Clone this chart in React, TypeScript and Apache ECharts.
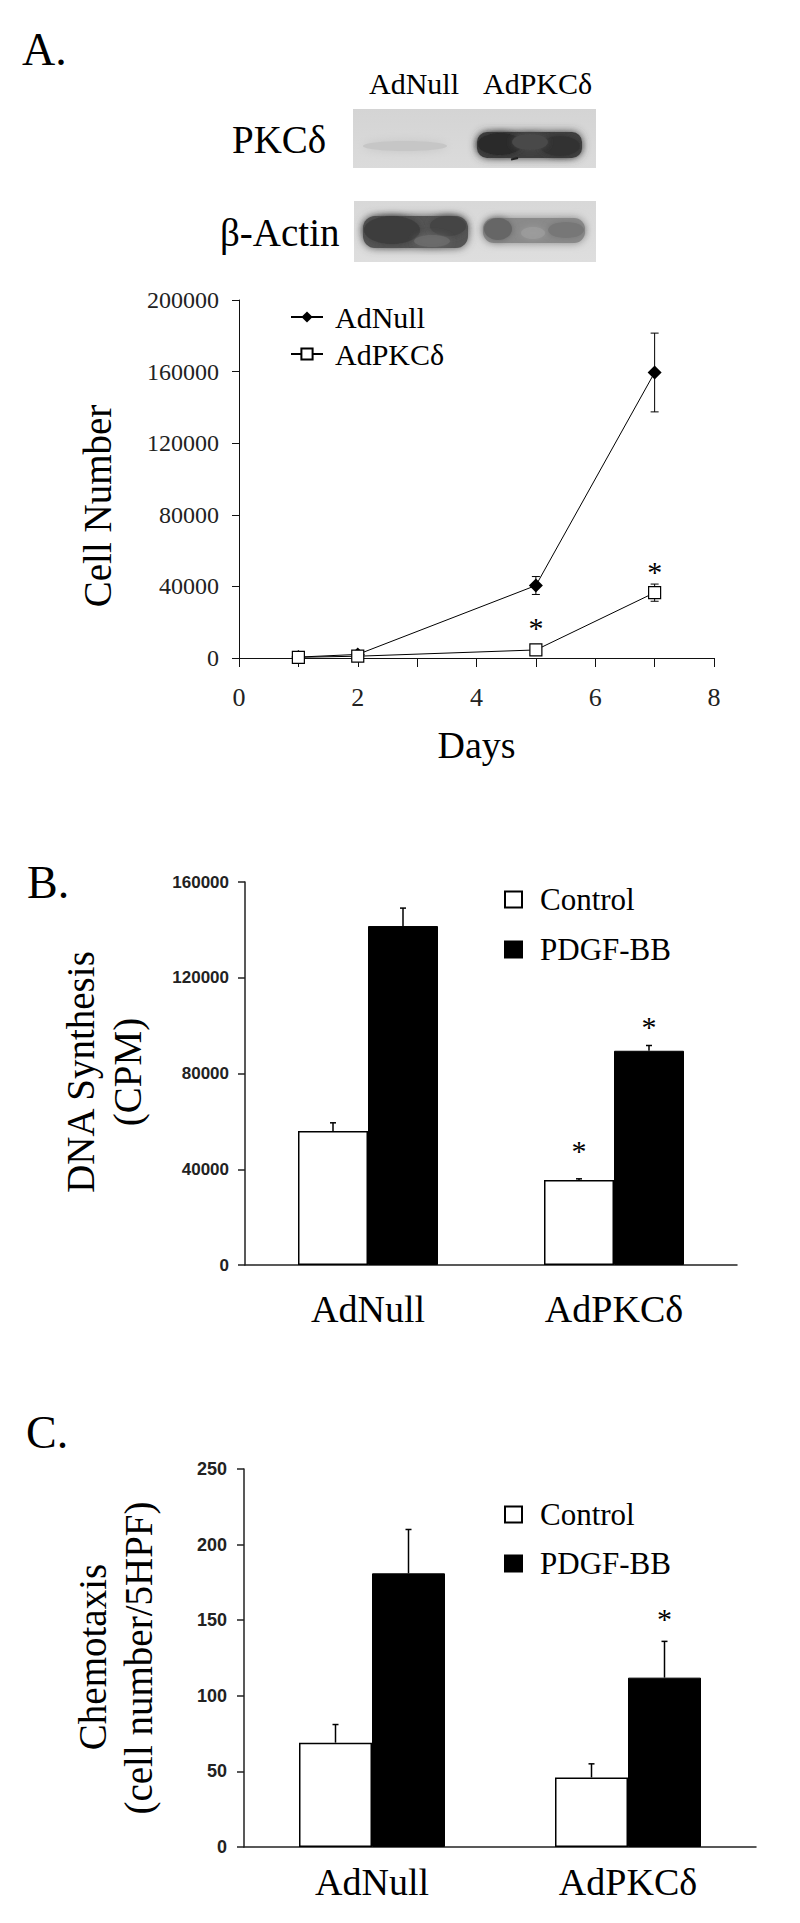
import React, { useEffect, useRef } from 'react';
import * as echarts from 'echarts';

const SERIF = '"Liberation Serif", "Times New Roman", Times, serif';
const SANS = '"Liberation Sans", Arial, Helvetica, sans-serif';

// ---------- Panel A: cell growth ----------
const days = [1, 2, 5, 7];
const adNullCells = [500, 2000, 40500, 159500];
const adNullErr = [300, 800, 5000, 22000];
const adPkcCells = [400, 1000, 4500, 36500];
const adPkcErr = [300, 500, 1000, 4800];
const aStarDays = [5, 7];
const aStarPos = [19500, 50300];
const aXTickLabels = [0, 2, 4, 6, 8];
const aYTicks = [0, 40000, 80000, 120000, 160000, 200000];

// ---------- Panel B: DNA synthesis ----------
const groups = ['AdNull', 'AdPKCδ'];
const bControl = [56000, 35500];
const bControlErr = [3400, 500];
const bPdgf = [141600, 89500];
const bPdgfErr = [7500, 2200];
const bStarControl = [null, 49400];
const bStarPdgf = [null, 101100];
const bYTicks = [0, 40000, 80000, 120000, 160000];

// ---------- Panel C: chemotaxis ----------
const cControl = [69, 46];
const cControlErr = [12, 9];
const cPdgf = [181, 112];
const cPdgfErr = [29, 24];
const cStarControl = [null, null];
const cStarPdgf = [null, 153.5];
const cYTicks = [0, 50, 100, 150, 200, 250];

const BAR_W_B = 70;
const BAR_W_C = 73;

function errorBarItem(both: boolean, dx: number, cap: number) {
  return (params: any, api: any) => {
    const x = api.value(0);
    const y = api.value(1);
    const e = api.value(2);
    const sign = api.value(3);
    const off = sign * dx;
    const base = api.coord([x, y]);
    const top = api.coord([x, y + e]);
    const bot = both ? api.coord([x, y - e]) : base;
    const st = { stroke: '#000', lineWidth: both ? 1 : 1.5 };
    const children: any[] = [
      { type: 'line', shape: { x1: top[0] + off, y1: top[1], x2: bot[0] + off, y2: bot[1] }, style: st },
      { type: 'line', shape: { x1: top[0] + off - cap, y1: top[1], x2: top[0] + off + cap, y2: top[1] }, style: st },
    ];
    if (both) {
      children.push({ type: 'line', shape: { x1: bot[0] - cap, y1: bot[1], x2: bot[0] + cap, y2: bot[1] }, style: st });
    }
    return { type: 'group', children };
  };
}

function starItem(dx: number) {
  return (params: any, api: any) => {
    const p = api.coord([api.value(0), api.value(1)]);
    const sign = api.value(2);
    return {
      type: 'text',
      x: p[0] + sign * dx,
      y: p[1] + 4,
      style: { text: '*', fontSize: 30, fontFamily: SERIF, fill: '#000', align: 'center', verticalAlign: 'middle' },
    };
  };
}

function txt(text: string, x: number, y: number, size: number, opts: any = {}) {
  return {
    type: 'text',
    x,
    y,
    rotation: opts.rotation || 0,
    style: {
      text,
      fontSize: size,
      fontFamily: opts.family || SERIF,
      fill: '#000',
      align: opts.align || 'left',
      verticalAlign: 'middle',
    },
  };
}

function blotGraphics() {
  const soft = (shape: any, color: string, blur: number, extra: any = {}) => ({
    type: 'rect',
    shape,
    style: { fill: color, shadowBlur: blur, shadowColor: color, ...extra },
  });
  const blob = (cx: number, cy: number, rx: number, ry: number, color: string, blur: number, opacity = 1) => ({
    type: 'ellipse',
    shape: { cx, cy, rx, ry },
    style: { fill: color, shadowBlur: blur, shadowColor: color, opacity },
  });
  return [
    // PKCdelta blot
    {
      type: 'rect',
      shape: { x: 353, y: 109, width: 243, height: 59 },
      style: {
        fill: new echarts.graphic.LinearGradient(0, 0, 0, 1, [
          { offset: 0, color: '#d4d4d4' },
          { offset: 1, color: '#dbdbdb' },
        ]),
      },
    },
    blob(405, 146, 42, 5, '#c6c6c6', 10),
    soft({ x: 477, y: 132, width: 105, height: 26, r: 10 }, '#404040', 9),
    blob(500, 144, 22, 11, '#2a2a2a', 6),
    blob(560, 146, 20, 10, '#333333', 6),
    blob(530, 142, 18, 8, '#484848', 6),
    { type: 'line', shape: { x1: 511, y1: 159.5, x2: 518, y2: 158 }, style: { stroke: '#222', lineWidth: 2 } },
    // beta-actin blot
    {
      type: 'rect',
      shape: { x: 354, y: 201, width: 242, height: 61 },
      style: {
        fill: new echarts.graphic.LinearGradient(0, 0, 0, 1, [
          { offset: 0, color: '#d8d8d8' },
          { offset: 1, color: '#dedede' },
        ]),
      },
    },
    soft({ x: 363, y: 216, width: 105, height: 32, r: 12 }, '#555555', 9),
    blob(392, 230, 28, 14, '#3e3e3e', 7),
    blob(448, 226, 18, 10, '#454545', 7),
    blob(432, 241, 18, 6, '#6e6e6e', 7, 0.7),
    soft({ x: 483, y: 218, width: 102, height: 25, r: 11 }, '#8a8a8a', 9),
    blob(498, 229, 14, 11, '#666666', 6),
    blob(566, 230, 18, 8, '#777777', 6),
    blob(533, 233, 12, 6, '#9c9c9c', 6, 0.8),
  ];
}

export default function App() {
  const ref = useRef<HTMLDivElement>(null);

  useEffect(() => {
    if (!ref.current) return;
    const chart = echarts.init(ref.current, undefined, { renderer: 'svg' });

    const axisLineA = { show: true, lineStyle: { color: '#111', width: 1 } };
    const axisLineBC = { show: true, lineStyle: { color: '#222', width: 1.5 } };
    const legendText = { fontFamily: SERIF, fontSize: 31, color: '#000', fontWeight: 'normal', padding: [0, 0, 0, 13] };

    const option: any = {
      animation: false,
      backgroundColor: '#fff',
      textStyle: { fontFamily: SERIF, color: '#000' },
      grid: [
        { left: 239, top: 300, width: 475, height: 358 },
        { left: 245, top: 882, width: 492, height: 383 },
        { left: 244, top: 1469, width: 512, height: 378 },
      ],
      xAxis: [
        {
          type: 'value',
          gridIndex: 0,
          min: aXTickLabels[0],
          max: aXTickLabels[aXTickLabels.length - 1],
          interval: 1,
          axisLine: axisLineA,
          axisTick: { show: true, length: 9, lineStyle: { color: '#111', width: 1 } },
          axisLabel: {
            formatter: (v: number) => (aXTickLabels.indexOf(v) >= 0 ? String(v) : ''),
            fontFamily: SERIF,
            fontSize: 26,
            color: '#222',
            margin: 26,
          },
          splitLine: { show: false },
          name: 'Days',
          nameLocation: 'middle',
          nameGap: 68,
          nameTextStyle: { fontFamily: SERIF, fontSize: 38, color: '#000' },
        },
        {
          type: 'category',
          gridIndex: 1,
          data: groups,
          axisLine: axisLineBC,
          axisTick: { show: false },
          axisLabel: { fontFamily: SERIF, fontSize: 38, color: '#000', margin: 25 },
        },
        {
          type: 'category',
          gridIndex: 2,
          data: groups,
          axisLine: axisLineBC,
          axisTick: { show: false },
          axisLabel: { fontFamily: SERIF, fontSize: 38, color: '#000', margin: 16 },
        },
      ],
      yAxis: [
        {
          type: 'value',
          gridIndex: 0,
          min: aYTicks[0],
          max: aYTicks[aYTicks.length - 1],
          interval: aYTicks[1] - aYTicks[0],
          axisLine: axisLineA,
          axisTick: { show: true, length: 7, lineStyle: { color: '#111', width: 1 } },
          axisLabel: { formatter: (v: number) => String(v), fontFamily: SERIF, fontSize: 24, color: '#222', margin: 20 },
          splitLine: { show: false },
        },
        {
          type: 'value',
          gridIndex: 1,
          min: bYTicks[0],
          max: bYTicks[bYTicks.length - 1],
          interval: bYTicks[1] - bYTicks[0],
          axisLine: axisLineBC,
          axisTick: { show: true, length: 7, lineStyle: { color: '#222', width: 1.5 } },
          axisLabel: { formatter: (v: number) => String(v), fontFamily: SANS, fontWeight: 'bold', fontSize: 17, color: '#222', margin: 16 },
          splitLine: { show: false },
        },
        {
          type: 'value',
          gridIndex: 2,
          min: cYTicks[0],
          max: cYTicks[cYTicks.length - 1],
          interval: cYTicks[1] - cYTicks[0],
          axisLine: axisLineBC,
          axisTick: { show: true, length: 7, lineStyle: { color: '#222', width: 1.5 } },
          axisLabel: { formatter: (v: number) => String(v), fontFamily: SANS, fontWeight: 'bold', fontSize: 18, color: '#222', margin: 17 },
          splitLine: { show: false },
        },
      ],
      legend: [
        {
          data: ['AdNull', 'AdPKCδ'],
          orient: 'vertical',
          left: 285,
          top: 297,
          itemWidth: 32,
          itemHeight: 14,
          itemGap: 7,
          selectedMode: false,
          textStyle: { fontFamily: SERIF, fontSize: 30, color: '#000', fontWeight: 'normal', padding: [0, 0, 0, 7] },
        },
        {
          data: ['Control', 'PDGF-BB'],
          orient: 'vertical',
          left: 499,
          top: 879,
          icon: 'rect',
          itemWidth: 17,
          itemHeight: 16,
          itemGap: 19,
          selectedMode: false,
          textStyle: legendText,
        },
        {
          data: ['Control', 'PDGF-BB'],
          orient: 'vertical',
          left: 499,
          top: 1494,
          icon: 'rect',
          itemWidth: 17,
          itemHeight: 16,
          itemGap: 18,
          selectedMode: false,
          textStyle: legendText,
        },
      ],
      series: [
        // Panel A
        {
          type: 'custom',
          name: 'errA',
          xAxisIndex: 0,
          yAxisIndex: 0,
          z: 1,
          renderItem: errorBarItem(true, 0, 4),
          data: [
            ...days.map((d, i) => [d, adNullCells[i], adNullErr[i], 0]),
            ...days.map((d, i) => [d, adPkcCells[i], adPkcErr[i], 0]),
          ],
        },
        {
          type: 'line',
          name: 'AdNull',
          xAxisIndex: 0,
          yAxisIndex: 0,
          z: 3,
          data: days.map((d, i) => [d, adNullCells[i]]),
          symbol: 'diamond',
          symbolSize: 14,
          lineStyle: { color: '#000', width: 1 },
          itemStyle: { color: '#000' },
        },
        {
          type: 'line',
          name: 'AdPKCδ',
          xAxisIndex: 0,
          yAxisIndex: 0,
          z: 4,
          data: days.map((d, i) => [d, adPkcCells[i]]),
          symbol: 'rect',
          symbolSize: 12,
          lineStyle: { color: '#000', width: 1 },
          itemStyle: { color: '#fff', borderColor: '#000', borderWidth: 1.2 },
        },
        {
          type: 'custom',
          name: 'starA',
          xAxisIndex: 0,
          yAxisIndex: 0,
          z: 5,
          renderItem: starItem(0),
          data: aStarDays.map((d, i) => [d, aStarPos[i], 0]),
        },
        // Panel B
        {
          type: 'bar',
          name: 'Control',
          xAxisIndex: 1,
          yAxisIndex: 1,
          data: bControl,
          barWidth: BAR_W_B,
          barGap: '0%',
          itemStyle: { color: '#fff', borderColor: '#000', borderWidth: 1.5 },
        },
        {
          type: 'bar',
          name: 'PDGF-BB',
          xAxisIndex: 1,
          yAxisIndex: 1,
          data: bPdgf,
          barWidth: BAR_W_B,
          barGap: '0%',
          itemStyle: { color: '#000', borderColor: '#000', borderWidth: 1 },
        },
        {
          type: 'custom',
          name: 'errB',
          xAxisIndex: 1,
          yAxisIndex: 1,
          z: 3,
          renderItem: errorBarItem(false, BAR_W_B / 2, 3),
          data: [
            ...groups.map((g, i) => [i, bControl[i], bControlErr[i], -1]),
            ...groups.map((g, i) => [i, bPdgf[i], bPdgfErr[i], 1]),
          ],
        },
        {
          type: 'custom',
          name: 'starB',
          xAxisIndex: 1,
          yAxisIndex: 1,
          z: 4,
          renderItem: starItem(BAR_W_B / 2),
          data: [
            ...bStarControl.map((v, i) => (v == null ? null : [i, v, -1])).filter(Boolean),
            ...bStarPdgf.map((v, i) => (v == null ? null : [i, v, 1])).filter(Boolean),
          ],
        },
        // Panel C
        {
          type: 'bar',
          name: 'Control',
          xAxisIndex: 2,
          yAxisIndex: 2,
          data: cControl,
          barWidth: BAR_W_C,
          barGap: '0%',
          itemStyle: { color: '#fff', borderColor: '#000', borderWidth: 1.5 },
        },
        {
          type: 'bar',
          name: 'PDGF-BB',
          xAxisIndex: 2,
          yAxisIndex: 2,
          data: cPdgf,
          barWidth: BAR_W_C,
          barGap: '0%',
          itemStyle: { color: '#000', borderColor: '#000', borderWidth: 1 },
        },
        {
          type: 'custom',
          name: 'errC',
          xAxisIndex: 2,
          yAxisIndex: 2,
          z: 3,
          renderItem: errorBarItem(false, BAR_W_C / 2, 3),
          data: [
            ...groups.map((g, i) => [i, cControl[i], cControlErr[i], -1]),
            ...groups.map((g, i) => [i, cPdgf[i], cPdgfErr[i], 1]),
          ],
        },
        {
          type: 'custom',
          name: 'starC',
          xAxisIndex: 2,
          yAxisIndex: 2,
          z: 4,
          renderItem: starItem(BAR_W_C / 2),
          data: [
            ...cStarControl.map((v, i) => (v == null ? null : [i, v, -1])).filter(Boolean),
            ...cStarPdgf.map((v, i) => (v == null ? null : [i, v, 1])).filter(Boolean),
          ],
        },
      ],
      graphic: [
        ...blotGraphics(),
        txt('A.', 22, 49, 46),
        txt('B.', 27, 882, 46),
        txt('C.', 26, 1432, 46),
        txt('AdNull', 369, 83, 30),
        txt('AdPKCδ', 483, 83, 30),
        txt('PKCδ', 232, 139, 39),
        txt('β-Actin', 220, 232, 39),
        txt('Cell Number', 97, 506, 39, { rotation: Math.PI / 2, align: 'center' }),
        txt('DNA Synthesis', 80, 1072, 39, { rotation: Math.PI / 2, align: 'center' }),
        txt('(CPM)', 127, 1072, 39, { rotation: Math.PI / 2, align: 'center' }),
        txt('Chemotaxis', 92, 1657, 39, { rotation: Math.PI / 2, align: 'center' }),
        txt('(cell number/5HPF)', 138, 1658, 39, { rotation: Math.PI / 2, align: 'center' }),
      ],
    };

    chart.setOption(option);
    return () => {
      chart.dispose();
    };
  }, []);

  return (
    <div
      ref={ref}
      style={{ position: 'absolute', left: 0, top: 0, width: 800, height: 1923, background: '#fff' }}
    />
  );
}
